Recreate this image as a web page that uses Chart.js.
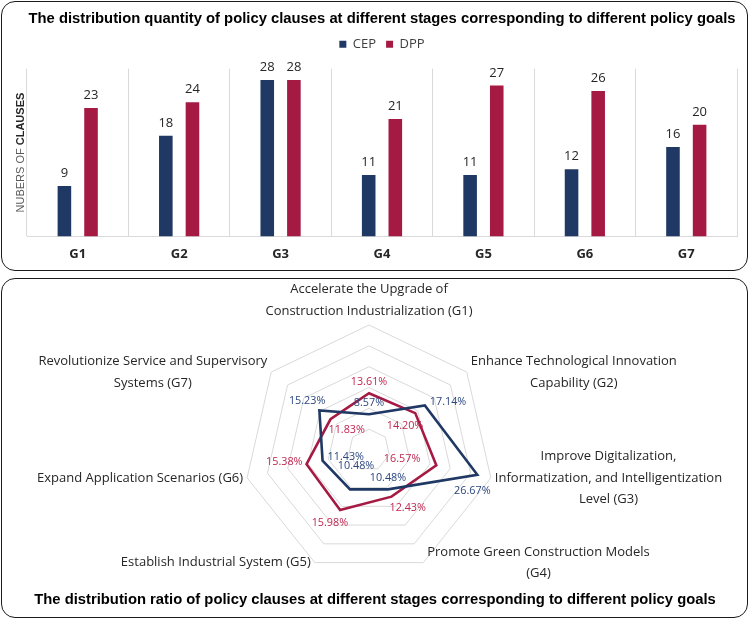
<!DOCTYPE html>
<html>
<head>
<meta charset="utf-8">
<script src="https://cdn.jsdelivr.net/npm/chart.js@4.4.1/dist/chart.umd.min.js"></script>
<style>
  html, body { margin: 0; padding: 0; background: #fff; }
  #page { position: relative; width: 750px; height: 620px; overflow: hidden; }
  canvas { position: absolute; left: 0; }
  .frame { position: absolute; border: 1.5px solid #1b1b1b; border-radius: 14px; box-sizing: border-box; pointer-events: none; }
</style>
</head>
<body>
<div id="page">
  <canvas id="barChart" width="750" height="272" style="top:0"></canvas>
  <canvas id="radarChart" width="750" height="345" style="top:275px"></canvas>
  <div class="frame" style="left:1px;top:1px;width:747px;height:270px"></div>
  <div class="frame" style="left:1px;top:278px;width:747px;height:340px"></div>
</div>
<script>
// --- data ---
const goals = ['G1', 'G2', 'G3', 'G4', 'G5', 'G6', 'G7'];
const cepCount = [9, 18, 28, 11, 11, 12, 16];
const dppCount = [23, 24, 28, 21, 27, 26, 20];

const goalNames = [
  ['Accelerate the Upgrade of', 'Construction Industrialization (G1)'],
  ['Enhance Technological Innovation', 'Capability (G2)'],
  ['Improve Digitalization,', 'Informatization, and Intelligentization', 'Level (G3)'],
  ['Promote Green Construction Models', '(G4)'],
  ['Establish Industrial System (G5)'],
  ['Expand Application Scenarios (G6)'],
  ['Revolutionize Service and Supervisory', 'Systems (G7)']
];
const cepShare = [8.57, 17.14, 26.67, 10.48, 10.48, 11.43, 15.23];
const dppShare = [13.61, 14.20, 16.57, 12.43, 15.98, 15.38, 11.83];

const CEP_COLOR = '#1F3864';
const DPP_COLOR = '#A51A43';
const TITLE_FONT = "'Liberation Sans Narrow', 'Arial Narrow', 'Liberation Sans', sans-serif";

Chart.defaults.font.family = "'Open Sans', sans-serif";
Chart.defaults.color = '#404040';

// numbers above the bars
const barValueLabels = {
  id: 'barValueLabels',
  afterDatasetsDraw(chart) {
    const ctx = chart.ctx;
    ctx.save();
    ctx.font = "13px 'Open Sans'";
    ctx.fillStyle = '#262626';
    ctx.textAlign = 'center';
    ctx.textBaseline = 'alphabetic';
    chart.data.datasets.forEach((ds, i) => {
      chart.getDatasetMeta(i).data.forEach((bar, j) => {
        ctx.fillText(ds.data[j], bar.x, bar.y - 9);
      });
    });
    ctx.restore();
  }
};

// a bit more room between the legend and the bars
const legendGap = {
  id: 'legendGap',
  beforeLayout(chart) {
    const lg = chart.legend;
    if (lg && !lg._gapPatched) {
      const fit = lg.fit;
      lg.fit = function () { fit.call(this); this.height += 8; };
      lg._gapPatched = true;
    }
  }
};

// "NUBERS OF CLAUSES" with the last word in bold
const yTitle = {
  id: 'yTitle',
  afterDraw(chart) {
    const {ctx, chartArea} = chart;
    const normal = "11px 'Liberation Sans', Arial, sans-serif";
    const bold = "bold 11px 'Liberation Sans', Arial, sans-serif";
    const a = 'NUBERS OF ', b = 'CLAUSES';
    ctx.save();
    ctx.translate(chartArea.left - 6, (chartArea.top + chartArea.bottom) / 2);
    ctx.rotate(-Math.PI / 2);
    ctx.textBaseline = 'middle';
    ctx.textAlign = 'left';
    ctx.font = normal;
    const wa = ctx.measureText(a).width;
    ctx.font = bold;
    const wb = ctx.measureText(b).width;
    const x0 = -(wa + wb) / 2;
    ctx.font = normal;
    ctx.fillStyle = '#595959';
    ctx.fillText(a, x0, 0);
    ctx.font = bold;
    ctx.fillStyle = '#262626';
    ctx.fillText(b, x0 + wa, 0);
    ctx.restore();
  }
};

new Chart(document.getElementById('barChart'), {
  type: 'bar',
  data: {
    labels: goals,
    datasets: [
      {label: 'CEP', data: cepCount, backgroundColor: CEP_COLOR},
      {label: 'DPP', data: dppCount, backgroundColor: DPP_COLOR}
    ]
  },
  options: {
    responsive: false,
    animation: false,
    layout: {padding: {left: 27, right: 13, top: 0, bottom: 0}},
    datasets: {bar: {categoryPercentage: 0.525, barPercentage: 0.51}},
    plugins: {
      title: {
        display: true,
        text: 'The distribution quantity of policy clauses at different stages corresponding to different policy goals',
        color: '#000',
        font: {family: TITLE_FONT, size: 14.8, weight: 'bold'},
        padding: {top: 10, bottom: 0}
      },
      legend: {
        labels: {
          boxWidth: 7, boxHeight: 7, padding: 10,
          font: {size: 13}, color: '#404040'
        }
      },
      tooltip: {enabled: false}
    },
    scales: {
      x: {
        grid: {color: '#d9d9d9', drawTicks: false, offset: true},
        border: {color: '#d9d9d9'},
        ticks: {font: {size: 13, weight: 'bold'}, color: '#262626', padding: 10}
      },
      y: {display: false, min: 0, max: 30}
    }
  },
  plugins: [barValueLabels, legendGap, yTitle]
});

// radar: axis names, value labels and the bottom title
const labelDirs = [
  ['up', 'right', 'down', 'up', 'upfar', 'right', 'upleft'],
  ['up', 'downleft', 'leftfar', 'downright', 'downleft', 'left', 'downright']
];
const dirOffset = {
  up: w => [0, -11],
  upfar: w => [6, -23],
  down: w => [-5, 16],
  left: w => [-w / 2 - 4, -2],
  leftfar: w => [-w / 2 - 16, -6],
  right: w => [w / 2 + 5, -4],
  upleft: w => [-w / 2 + 6, -10],
  downleft: w => [-w / 2 + 8, 13],
  downright: w => [w / 2 - 2, 11]
};

const radarText = {
  id: 'radarText',
  afterDatasetsDraw(chart) {
    const ctx = chart.ctx;
    const scale = chart.scales.r;
    ctx.save();

    // axis names around the web
    ctx.font = "13px 'Open Sans'";
    ctx.fillStyle = '#262626';
    ctx.textAlign = 'center';
    ctx.textBaseline = 'middle';
    const lh = 21.5;
    goalNames.forEach((lines, i) => {
      const p = scale.getPointPositionForValue(i, scale.max);
      const cos = Math.cos(p.angle);
      const w = Math.max(...lines.map(s => ctx.measureText(s).width));
      let cx = p.x, cy = p.y;
      if (Math.abs(cos) < 0.05) {
        cy = p.y - 14 - (lines.length - 1) * lh / 2;
      } else {
        cx = cos > 0 ? p.x + 4 + w / 2 : p.x - 4 - w / 2;
      }
      lines.forEach((s, k) => {
        ctx.fillText(s, cx, cy + (k - (lines.length - 1) / 2) * lh);
      });
    });

    // value labels
    ctx.font = "10.8px 'Open Sans'";
    chart.data.datasets.forEach((ds, d) => {
      ctx.fillStyle = ds.labelColor;
      chart.getDatasetMeta(d).data.forEach((pt, j) => {
        const txt = ds.data[j].toFixed(2) + '%';
        const w = ctx.measureText(txt).width;
        const [dx, dy] = dirOffset[labelDirs[d][j]](w);
        ctx.fillText(txt, pt.x + dx, pt.y + dy);
      });
    });

    // bottom title
    ctx.font = 'bold 14.8px ' + TITLE_FONT;
    ctx.fillStyle = '#000';
    ctx.fillText('The distribution ratio of policy clauses at different stages corresponding to different policy goals', 375, 325);
    ctx.restore();
  }
};

new Chart(document.getElementById('radarChart'), {
  type: 'radar',
  data: {
    labels: goals,
    datasets: [
      {label: 'CEP', data: cepShare, borderColor: CEP_COLOR, labelColor: '#2B4780',
       borderWidth: 2.6, pointRadius: 0, fill: false},
      {label: 'DPP', data: dppShare, borderColor: DPP_COLOR, labelColor: '#C0264F',
       borderWidth: 2.6, pointRadius: 0, fill: false}
    ]
  },
  options: {
    responsive: false,
    animation: false,
    layout: {padding: {left: 244, right: 256, top: 50, bottom: 45}},
    elements: {line: {tension: 0}},
    plugins: {legend: {display: false}, tooltip: {enabled: false}},
    scales: {
      r: {
        min: 0, max: 30,
        ticks: {display: false, stepSize: 5},
        grid: {color: '#d9d9d9', lineWidth: 1},
        angleLines: {display: false},
        pointLabels: {display: false}
      }
    }
  },
  plugins: [radarText]
});
</script>
</body>
</html>
